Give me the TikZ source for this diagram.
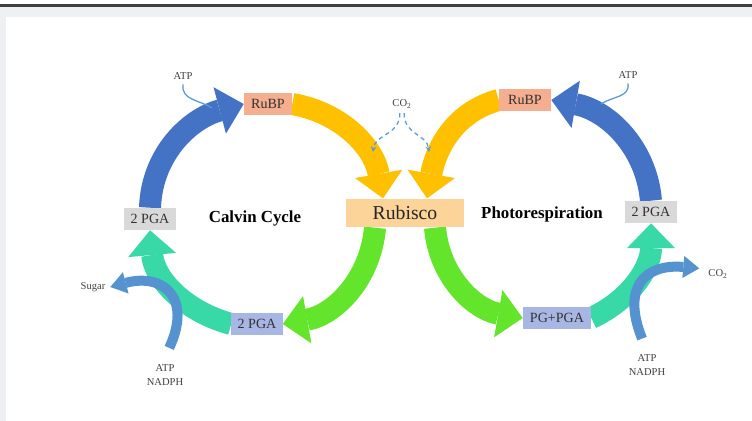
\documentclass[tikz,border=0pt]{standalone}
\usepackage{fontspec}
\setmainfont{Liberation Serif}
\usepackage{tikz}
\usetikzlibrary{arrows.meta,backgrounds,calc}
\definecolor{cycblue}{HTML}{4472C4}
\definecolor{cycgold}{HTML}{FFC000}
\definecolor{cycgreen}{HTML}{62E52B}
\definecolor{cycteal}{HTML}{38D9A6}
\definecolor{sideblue}{HTML}{5592D0}
\definecolor{thinblue}{HTML}{5B9BD5}
\definecolor{rubpfill}{HTML}{F5AE8F}
\definecolor{pgafill}{HTML}{D9D9D9}
\definecolor{lavfill}{HTML}{A8B6E4}
\definecolor{rubfill}{HTML}{FCD49A}
\definecolor{framegray}{HTML}{EFF0F2}

\begin{document}
\begin{tikzpicture}[x=0.025cm,y=0.025cm,
  band/.style={line width=0.55cm,-{Triangle[length=0.62cm,width=1.2cm,line width=0pt]}},
  sideband/.style={sideblue,line width=0.25cm,-{Triangle[length=0.4cm,width=0.55cm,line width=0pt]}},
  thin/.style={thinblue,line width=0.9pt},
  box/.style={minimum height=0.55cm,inner xsep=3pt,text=black!80,font=\fontsize{10}{12}\selectfont},
  small/.style={font=\fontsize{7.5}{9.5}\selectfont,text=black!75,align=center},
  title/.style={font=\fontsize{12}{14}\selectfont\bfseries}]
\useasboundingbox (0,0) rectangle (752,-421);

% boxes
\node[box,fill=rubpfill,minimum width=1.2cm] (rubpL) at (268,-104) {RuBP};
\node[box,fill=rubpfill,minimum width=1.3cm] (rubpR) at (525,-100) {RuBP};
\node[box,fill=pgafill,minimum width=1.275cm] (pgaL) at (150,-219) {2 PGA};
\node[box,fill=pgafill,minimum width=1.275cm] (pgaR) at (651,-212) {2 PGA};
\node[box,fill=lavfill,minimum width=1.275cm] (pgaB) at (257,-324) {2 PGA};
\node[box,fill=lavfill,minimum width=1.7cm] (pgpga) at (557,-318) {PG+PGA};
\node[fill=rubfill,minimum width=2.95cm,minimum height=0.72cm,font=\fontsize{14}{16}\selectfont,text=black!85] (rub) at (405,-213) {Rubisco};

% labels
\node[title] (calvin) at (255,-218) {Calvin Cycle};
\node[title] (photo) at (542,-214) {Photorespiration};
\node[small] (atpL) at (183,-76) {ATP};
\node[small] (atpR) at (628,-75) {ATP};
\node[small] (co2T) at (402,-104) {CO\textsubscript{2}};
\node[small] (sugar) at (93,-287) {Sugar};
\node[small] (co2R) at (718,-274) {CO\textsubscript{2}};
\node[small] (nadL) at (165,-375) {ATP\\NADPH};
\node[small] (nadR) at (647,-365) {ATP\\NADPH};

\coordinate (atpLend) at (212,-108);
\coordinate (atpRend) at (601,-104);
\coordinate (co2endL) at (373,-152);
\coordinate (co2endR) at (429,-152);

\begin{scope}[on background layer]
\fill[white] (0,0) rectangle (752,-421);
\fill[framegray] (0,-6.5) rectangle (752,-16.5);
\fill[framegray] (0,-16.5) rectangle (5.5,-421);
\draw[black!75,line width=1.5] (0,-5.5) -- (752,-5.5);

% Calvin cycle
\draw[band,cycblue] (pgaL.north) to[out=88,in=195] (rubpL.west);
\draw[band,cycgold] (rubpL.east) to[out=-10,in=100] ([xshift=-0.55cm]rub.north);
\draw[band,cycgreen] ([xshift=-0.75cm]rub.south) to[out=-95,in=10] (pgaB.east);
\draw[band,cycteal] (pgaB.west) to[out=165,in=-85] (pgaL.south);
% photorespiration
\draw[band,cycgreen] ([xshift=0.75cm]rub.south) to[out=-85,in=170] (pgpga.west);
\draw[band,cycteal] (pgpga.east) to[out=25,in=-90] (pgaR.south);
\draw[band,cycblue] (pgaR.north) to[out=95,in=-10] (rubpR.east);
\draw[band,cycgold] (rubpR.west) to[out=195,in=80] ([xshift=0.55cm]rub.north);

% side arrows
\draw[sideband] ([xshift=3pt,yshift=8.5pt]nadL.north) .. controls +(65:55) and +(15:55) .. (sugar.east);
\draw[sideband] ([xshift=-3.5pt,yshift=8pt]nadR.north) .. controls +(112:55) and +(175:55) .. ([shift={(-3pt,4pt)}]co2R.west);

% ATP and CO2 inputs
\draw[thin] (atpL.south) .. controls +(-2,-16) and +(-12,8) .. (atpLend);
\draw[thin] (atpR.south) .. controls +(2,-14) and +(12,8) .. (atpRend);
\draw[thin,dash pattern=on 3pt off 2.5pt,-{Stealth[length=4pt,width=4pt]}] ([xshift=-1.5pt]co2T.south) .. controls +(0,-22) and +(2,18) .. (co2endL);
\draw[thin,dash pattern=on 3pt off 2.5pt,-{Stealth[length=4pt,width=4pt]}] ([xshift=1.5pt]co2T.south) .. controls +(0,-22) and +(-2,18) .. (co2endR);
\end{scope}
\end{tikzpicture}
\end{document}
